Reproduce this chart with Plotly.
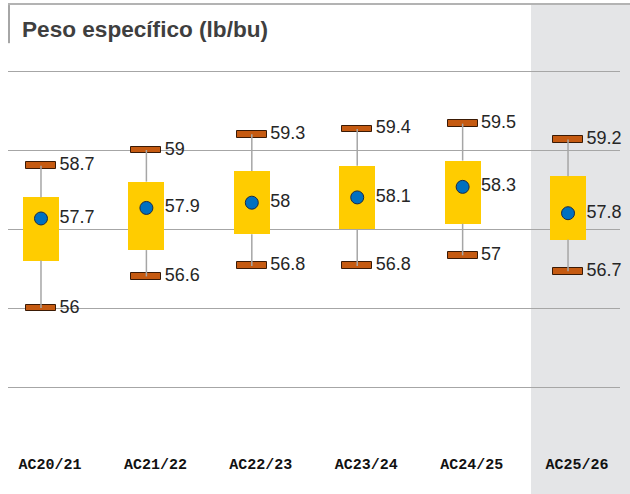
import plotly.graph_objects as go

categories = ["AC20/21", "AC21/22", "AC22/23", "AC23/24", "AC24/25", "AC25/26"]
mean_vals = [57.7, 57.9, 58.0, 58.1, 58.3, 57.8]
max_vals = [58.7, 59.0, 59.3, 59.4, 59.5, 59.2]
min_vals = [56.0, 56.6, 56.8, 56.8, 57.0, 56.7]
box_low = [56.9, 57.1, 57.4, 57.5, 57.6, 57.3]
box_high = [58.1, 58.4, 58.6, 58.7, 58.8, 58.5]

def fmt(v):
    return ("%g" % v)

xs = list(range(len(categories)))

BOX_W = 0.342
CAP_W = 0.285
CAP_H = 0.13
LBL_DX = 0.175

fig = go.Figure()

# whiskers (two segments per category, outside the box)
wx, wy = [], []
for i in xs:
    wx += [i, i, None, i, i, None]
    wy += [min_vals[i], box_low[i], None, box_high[i], max_vals[i], None]
fig.add_trace(go.Scatter(x=wx, y=wy, mode="lines",
                         line=dict(color="#a6a6a6", width=1.5),
                         hoverinfo="skip", showlegend=False))

# boxes
fig.add_trace(go.Bar(x=xs, y=[h - l for l, h in zip(box_low, box_high)], base=box_low,
                     width=BOX_W, marker=dict(color="#ffcc00", line=dict(width=0)),
                     showlegend=False, hoverinfo="skip"))

# caps
for vals in (max_vals, min_vals):
    fig.add_trace(go.Bar(x=xs, y=[CAP_H] * len(xs), base=[v - CAP_H / 2 for v in vals],
                         width=CAP_W,
                         marker=dict(color="#c55a11", line=dict(color="#3a1a05", width=1)),
                         showlegend=False, hoverinfo="skip"))

# mean dots
fig.add_trace(go.Scatter(x=xs, y=mean_vals, mode="markers",
                         marker=dict(size=13, color="#0070c0", line=dict(color="#1a2a44", width=1)),
                         showlegend=False, hoverinfo="skip"))

# labels
for vals in (max_vals, mean_vals, min_vals):
    fig.add_trace(go.Scatter(x=[i + LBL_DX for i in xs], y=vals, mode="text",
                             text=[fmt(v) for v in vals], textposition="middle right",
                             textfont=dict(family="Liberation Sans, Arial, sans-serif", size=18, color="#262626"),
                             cliponaxis=False, showlegend=False, hoverinfo="skip"))

# highlighted band for the current season
fig.add_shape(type="rect", xref="paper", yref="paper",
              x0=0.8546, x1=1.03, y0=-0.2, y1=1.163,
              fillcolor="#e4e5e7", line=dict(width=0), layer="below")
# top border line and left bar of title
fig.add_shape(type="line", xref="paper", yref="paper", x0=0.0, x1=1.03, y0=1.166, y1=1.166,
              line=dict(color="#b3b3b3", width=2))
fig.add_shape(type="line", xref="paper", yref="paper", x0=0.0016, x1=0.0016, y0=1.061, y1=1.163,
              line=dict(color="#a6a6a6", width=2))

fig.add_annotation(text="<b>Peso específico (lb/bu)</b>", xref="paper", yref="paper",
                   x=0.0196, y=1.097, xanchor="left", yanchor="middle", showarrow=False,
                   font=dict(family="Liberation Sans, Arial, sans-serif", size=22.6, color="#3f3f3f"))

fig.update_layout(
    width=630, height=494,
    margin=dict(l=8, r=10, t=66, b=54),
    paper_bgcolor="white", plot_bgcolor="rgba(0,0,0,0)",
    barmode="overlay", bargap=0,
    xaxis=dict(tickmode="array", tickvals=xs, ticktext=categories,
               range=[-0.313, 5.493], showgrid=False, zeroline=False, showline=False,
               ticks="", ticklabelshift=9, ticklabelstandoff=13,
               tickfont=dict(family="Liberation Mono, monospace", size=15, color="#111111", weight="bold")),
    yaxis=dict(range=[53.494, 60.595], tick0=56, dtick=1.5, showgrid=True,
               gridcolor="#a6a6a6", gridwidth=1, zeroline=False, showline=False,
               showticklabels=False, ticks=""),
    font=dict(family="Liberation Sans, Arial, sans-serif"),
)

fig.write_html("out.html", post_script="document.body.style.margin='0';",
               config={"displayModeBar": False})
